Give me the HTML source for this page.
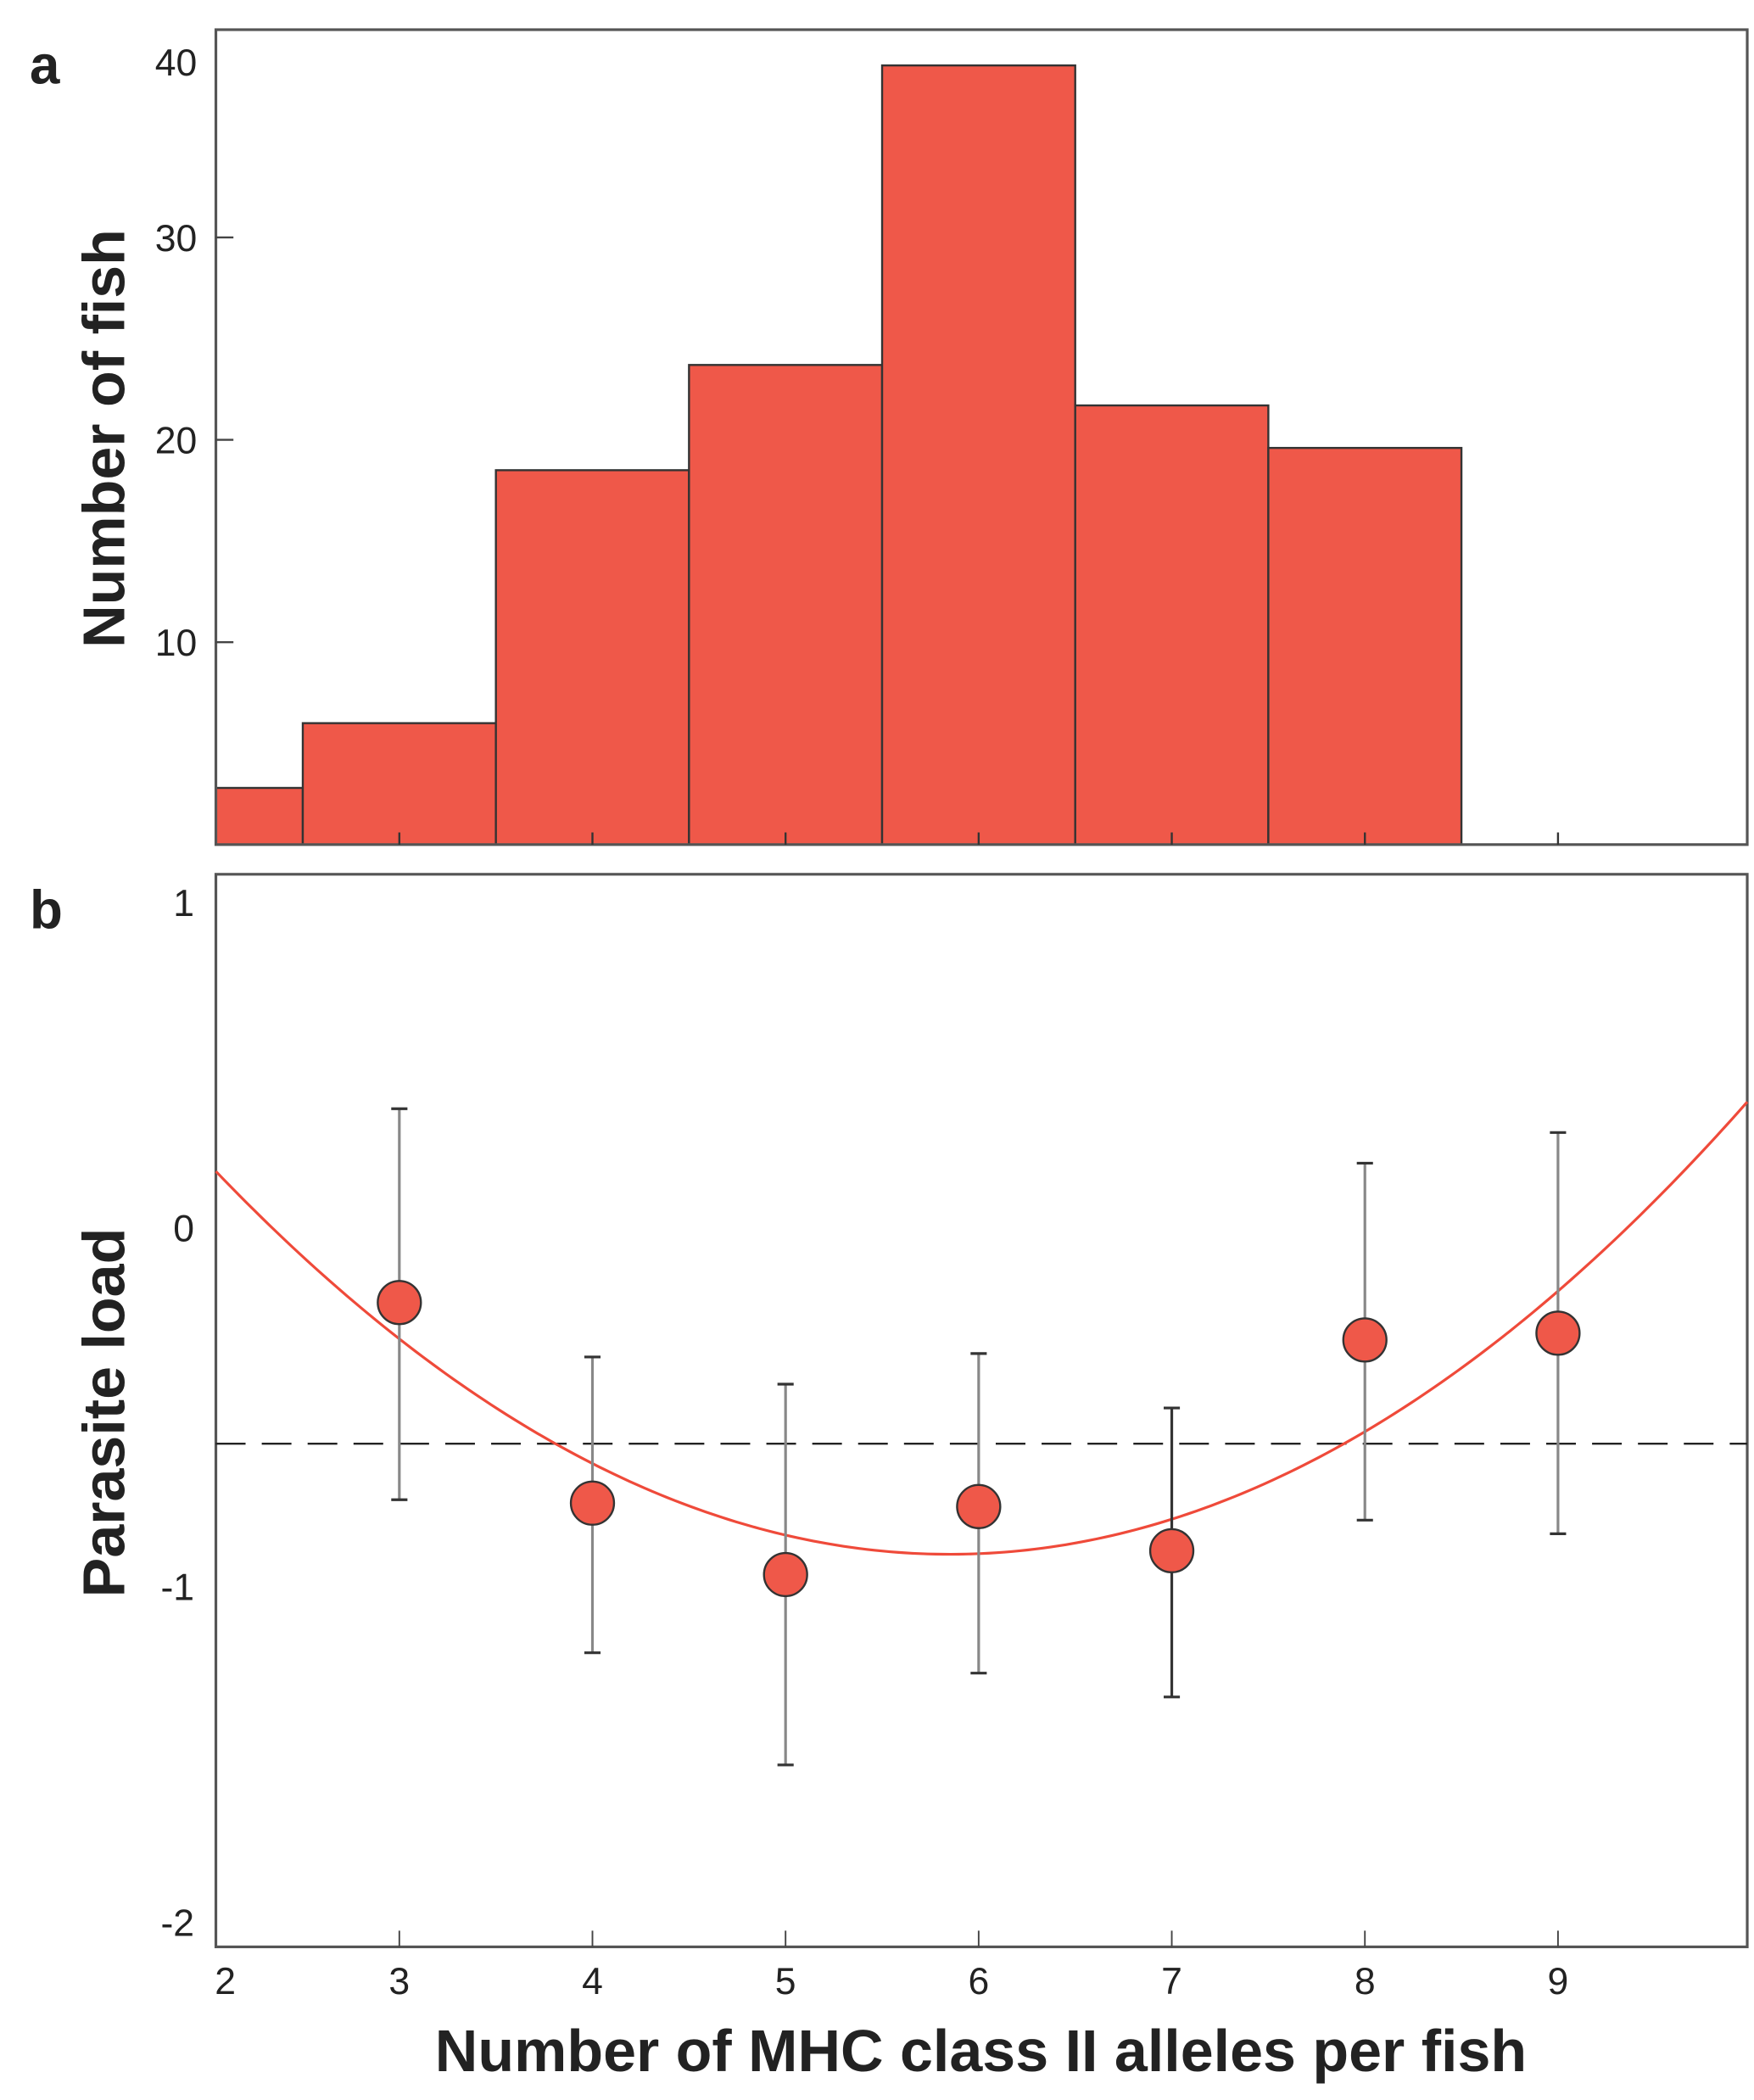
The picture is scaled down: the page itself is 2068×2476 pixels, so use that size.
<!DOCTYPE html>
<html><head><meta charset="utf-8"><style>
html,body{margin:0;padding:0;background:#fff}
svg{display:block}
text{font-family:"Liberation Sans",sans-serif;fill:#222}
</style></head><body>
<svg id="fig" width="2068" height="2476" viewBox="0 0 1300 1556.5" xmlns="http://www.w3.org/2000/svg">
<defs><clipPath id="clipA"><rect x="160" y="22" width="1135" height="604"/></clipPath></defs>
<g id="pa"></g>
<g id="pb"></g>
</svg>
<script>
const binEdges=[2,2.5,3.5,4.5,5.5,6.5,7.5,8.5];
const binCounts=[2.8,6,18.5,23.7,38.5,21.7,19.6];
const histYTicks=[10,20,30,40];
const xTicks=[2,3,4,5,6,7,8,9];
const alleles=[3,4,5,6,7,8,9];
const loadMeans=[-0.22,-0.81,-1.02,-0.82,-0.95,-0.33,-0.31];
const loadUpper=[0.35,-0.38,-0.46,-0.37,-0.53,0.19,0.28];
const loadLower=[-0.8,-1.25,-1.58,-1.31,-1.38,-0.86,-0.9];
const loadYTicks=[1,0,-1,-2];
const meanLoad=[-0.635];
const fitCoef=[1.709,-0.9126,0.078];

const NS='http://www.w3.org/2000/svg';
function mk(tag,attrs,parent,txt){const e=document.createElementNS(NS,tag);for(const k in attrs)e.setAttribute(k,attrs[k]);if(txt!==undefined)e.textContent=txt;parent.appendChild(e);return e;}
const L=160,R=1295,XMIN=2.05,XMAX=9.98;
const sx=v=>L+(v-XMIN)/(XMAX-XMIN)*(R-L);
const aTop=22,aBot=626;
const syA=v=>aBot-v*15;
const bTop=648,bBot=1443;
const syB=v=>910-v*252;
const pa=document.getElementById('pa'),pb=document.getElementById('pb');

// Panel a
let t=mk('text',{x:22,y:62,'font-size':40,'font-weight':'bold'},pa,'a');


const bars=mk('g',{'clip-path':'url(#clipA)'},pa);
for(let i=0;i<binCounts.length;i++){
  const r=mk('rect',{x:sx(binEdges[i]),y:syA(binCounts[i]),width:sx(binEdges[i+1])-sx(binEdges[i]),height:aBot-syA(binCounts[i]),fill:'#ef5849',stroke:'#333','stroke-width':1.5},bars);
  
  
}
const fa=mk('rect',{x:L,y:aTop,width:R-L,height:aBot-aTop,fill:'none',stroke:'#555','stroke-width':2},pa);


histYTicks.forEach(v=>{
  if(v<40)mk('line',{x1:L,x2:L+13,y1:syA(v),y2:syA(v),stroke:'#444','stroke-width':1.5},pa);
  const tl=mk('text',{x:146,y:(v==40?46:syA(v))+10,'font-size':28,'text-anchor':'end'},pa,String(v));
  
  
});
xTicks.slice(1).forEach(v=>{mk('line',{x1:sx(v),x2:sx(v),y1:aBot,y2:aBot-9,stroke:'#333','stroke-width':1.5},pa);});
t=mk('text',{transform:'translate(92,325) rotate(-90)','font-size':44,'font-weight':'bold','text-anchor':'middle'},pa,'Number of fish');



// Panel b
t=mk('text',{x:22,y:688,'font-size':40,'font-weight':'bold'},pb,'b');


const fb=mk('rect',{x:L,y:bTop,width:R-L,height:bBot-bTop,fill:'none',stroke:'#555','stroke-width':2},pb);


loadYTicks.forEach(v=>{
  const yy=v==1?669:v==-2?1425:(v==-1?1176:syB(v));
  const tl=mk('text',{x:144,y:yy+10,'font-size':28,'text-anchor':'end'},pb,String(v));
  
  
});
xTicks.forEach(v=>{
  if(v>2)mk('line',{x1:sx(v),x2:sx(v),y1:bBot,y2:bBot-12,stroke:'#444','stroke-width':1.2},pb);
  const tl=mk('text',{x:v==2?167:sx(v),y:1478,'font-size':28,'text-anchor':'middle'},pb,String(v));
  
  
});
const dl=mk('line',{x1:L,x2:R,y1:syB(meanLoad[0]),y2:syB(meanLoad[0]),stroke:'#222','stroke-width':1.5,'stroke-dasharray':'22,12'},pb);


let d='';
for(let i=0;i<=200;i++){const x=XMIN+(XMAX-XMIN)*i/200;const y=fitCoef[0]+fitCoef[1]*x+fitCoef[2]*x*x;d+=(i?'L':'M')+sx(x).toFixed(2)+','+syB(y).toFixed(2);}
const fc=mk('path',{d:d,fill:'none',stroke:'#ef4a3a','stroke-width':2},pb);


alleles.forEach((a,i)=>{
  const x=sx(a),col=(i==4)?'#333':'#888';
  const eb=mk('g',{},pb);
  
  
  mk('line',{x1:x,x2:x,y1:syB(loadUpper[i]),y2:syB(loadLower[i]),stroke:col,'stroke-width':2},eb);
  mk('line',{x1:x-6,x2:x+6,y1:syB(loadUpper[i]),y2:syB(loadUpper[i]),stroke:'#333','stroke-width':2},eb);
  mk('line',{x1:x-6,x2:x+6,y1:syB(loadLower[i]),y2:syB(loadLower[i]),stroke:'#333','stroke-width':2},eb);
  const c=mk('circle',{cx:x,cy:syB(loadMeans[i]),r:16,fill:'#ef5849',stroke:'#333','stroke-width':1.5},pb);
  
  
});
t=mk('text',{transform:'translate(92,1047) rotate(-90)','font-size':44,'font-weight':'bold','text-anchor':'middle'},pb,'Parasite load');


t=mk('text',{x:727,y:1535,'font-size':44,'font-weight':'bold','text-anchor':'middle'},pb,'Number of MHC class II alleles per fish');


</script>
</body></html>
